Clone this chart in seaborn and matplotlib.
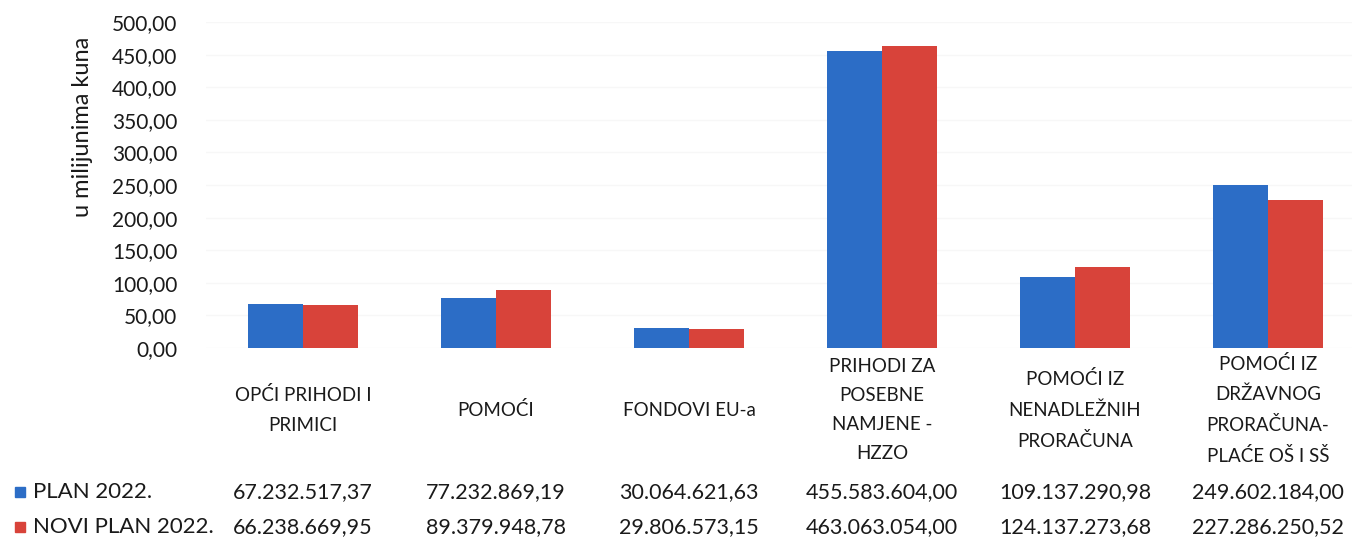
#!/usr/bin/env python3
"""
Plan 2022 vs Novi plan 2022 po izvorima financiranja - bar chart with data table.
Saves out.png (1352x542).
"""

import pandas as pd
import matplotlib.pyplot as plt
import matplotlib.ticker as mticker
import matplotlib.transforms as mtransforms
from matplotlib.patches import Rectangle
import seaborn as sns

# === DATA ===

CATEGORIES = [
    "OPĆI PRIHODI I\nPRIMICI",
    "POMOĆI",
    "FONDOVI EU-a",
    "PRIHODI ZA\nPOSEBNE\nNAMJENE -\nHZZO",
    "POMOĆI IZ\nNENADLEŽNIH\nPRORAČUNA",
    "POMOĆI IZ\nDRŽAVNOG\nPRORAČUNA-\nPLAĆE OŠ I SŠ",
]
SERIES = ["PLAN 2022.", "NOVI PLAN 2022."]
PLAN_2022 = [67232517.37, 77232869.19, 30064621.63, 455583604.00, 109137290.98, 249602184.00]
NOVI_PLAN_2022 = [66238669.95, 89379948.78, 29806573.15, 463063054.00, 124137273.68, 227286250.52]
COLORS = ["#2C6DC6", "#D8433A"]
Y_TICKS = [0, 50, 100, 150, 200, 250, 300, 350, 400, 450, 500]

# === STYLE ===

sns.set_theme(style="white")
plt.rcParams["font.family"] = ["Lato", "DejaVu Sans"]
TEXT_COLOR = "#1a1a1a"
PX = 72 / 100  # points per pixel at dpi 100


def hr_number(v):
    """Format number with Croatian separators: 67.232.517,37"""
    s = f"{v:,.2f}"
    return s.replace(",", "X").replace(".", ",").replace("X", ".")


def main():
    df = pd.DataFrame({
        "kategorija": CATEGORIES * 2,
        "serija": [SERIES[0]] * len(CATEGORIES) + [SERIES[1]] * len(CATEGORIES),
        "iznos": [v / 1e6 for v in PLAN_2022 + NOVI_PLAN_2022],
    })

    fig = plt.figure(figsize=(13.52, 5.42), dpi=100)
    ax = fig.add_axes([206.5 / 1352, 1 - 348 / 542, 1158 / 1352, 326 / 542])

    sns.barplot(data=df, x="kategorija", y="iznos", hue="serija",
                palette=COLORS, width=0.57, saturation=1, linewidth=0,
                ax=ax, legend=False, order=CATEGORIES, hue_order=SERIES)

    ax.set_xlim(-0.5, len(CATEGORIES) - 0.5)
    ax.set_ylim(0, 500)
    ax.set_yticks(Y_TICKS)
    ax.yaxis.set_major_formatter(mticker.FuncFormatter(lambda v, _: hr_number(v)))
    ax.tick_params(axis="y", length=0, pad=29 * PX, labelsize=15, labelcolor=TEXT_COLOR)
    ax.tick_params(axis="x", length=0, pad=62 * PX, labelsize=13.5, labelcolor=TEXT_COLOR)
    for lbl in ax.get_xticklabels():
        lbl.set_verticalalignment("center")
        lbl.set_linespacing(1.87)
        lbl.set_horizontalalignment("center")
    ax.grid(axis="y", color="#f7f7f7", linewidth=1)
    ax.set_axisbelow(True)
    sns.despine(ax=ax, left=True, bottom=True)

    ax.set_xlabel("")
    ax.set_ylabel("u milijunima kuna", fontsize=17, color=TEXT_COLOR)
    ax.yaxis.set_label_coords((93 - 206.5) / 1158, (348 - 127) / 326)

    # data table below the chart
    trans = mtransforms.blended_transform_factory(ax.transData, fig.transFigure)
    rows = [(SERIES[0], PLAN_2022, COLORS[0], 1 - 492 / 542),
            (SERIES[1], NOVI_PLAN_2022, COLORS[1], 1 - 527 / 542)]
    for name, values, color, y in rows:
        fig.add_artist(Rectangle((15 / 1352, y - 5 / 542), 10 / 1352, 10 / 542,
                                 transform=fig.transFigure, color=color))
        fig.text(33 / 1352, y, name, fontsize=16, va="center", ha="left", color=TEXT_COLOR)
        for i, v in enumerate(values):
            ax.text(i, y, hr_number(v), transform=trans, fontsize=15.5,
                    va="center", ha="center", color=TEXT_COLOR, clip_on=False)

    fig.savefig("out.png", dpi=100, facecolor="white")
    plt.close(fig)


if __name__ == "__main__":
    main()
